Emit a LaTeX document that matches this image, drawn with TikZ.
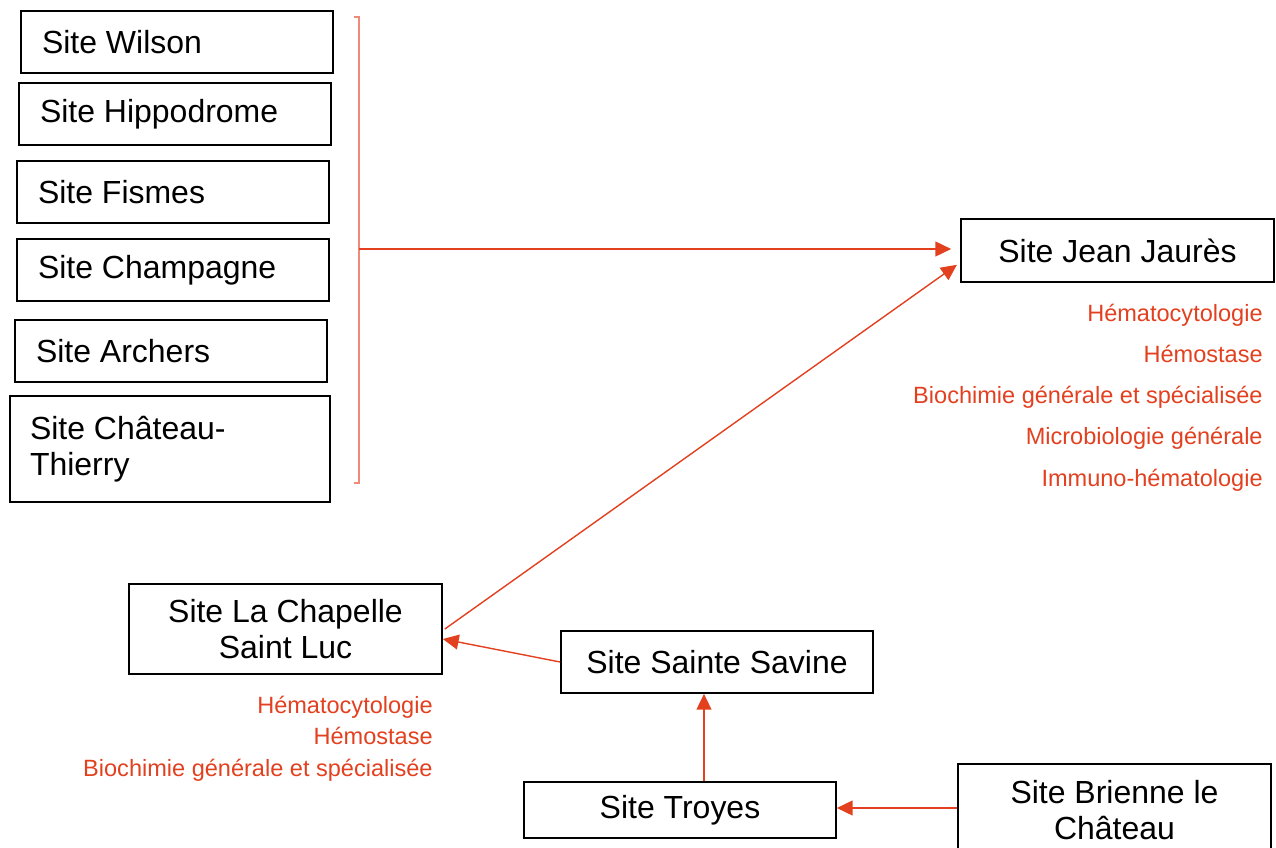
\documentclass[tikz,border=0pt]{standalone}
\usepackage{fontspec}
\setmainfont{Liberation Sans}
\usepackage{xcolor}
\usetikzlibrary{arrows.meta}
\definecolor{LabRed}{HTML}{E2401F}
\definecolor{BracketRed}{HTML}{F08A78}

\tikzset{
  sitebox/.style={draw=black, line width=1pt, inner sep=0pt,
    minimum width=6.24cm, minimum height=1.24cm,
    font=\fontsize{18.2}{20.4}\selectfont},
  leftbox/.style={sitebox, align=flush left, inner xsep=0.42cm, text width=5.40cm},
  sitelist/.style={text=LabRed, inner sep=0pt, anchor=east,
    text height=10pt, text depth=3pt,
    font=\fontsize{13.4}{16}\selectfont},
  link/.style={draw=LabRed, line width=0.8pt,
    -{Triangle[length=9pt, width=8.5pt]}},
  bracket/.style={draw=BracketRed, line width=0.7pt}
}

\begin{document}
\begin{tikzpicture}[x=0.02cm, y=-0.02cm]
  \useasboundingbox (0,0) rectangle (1276,848);

  % sites de la zone nord
  \node[leftbox] (wilson) at (177,42) {Site Wilson};
  \node[leftbox] (hippodrome) at (175,114) {Site Hippodrome};
  \node[leftbox] (fismes) at (173,192) {Site Fismes};
  \node[leftbox] (champagne) at (173,270) {Site Champagne};
  \node[leftbox] (archers) at (171,351) {Site Archers};
  \node[leftbox, minimum height=2.12cm, inner xsep=0.40cm, text width=5.60cm]
    (chateau) at (170,449) {Site Château-\\Thierry};

  % plateau central
  \node[sitebox, minimum width=6.26cm, minimum height=1.26cm]
    (jaures) at (1117.5,250.5) {Site Jean Jaurès};
  \foreach \lab [count=\i] in {Hématocytologie, Hémostase,
      Biochimie générale et spécialisée, Microbiologie générale,
      Immuno-hématologie}
    \node[sitelist] (jlist\i) at (1263,274+41.2*\i) {\lab};

  % sites de l'Aube
  \node[sitebox, minimum width=6.26cm, minimum height=1.80cm, align=center]
    (chapelle) at (285.5,629) {Site La Chapelle\\Saint Luc};
  \foreach \lab [count=\i] in {Hématocytologie, Hémostase,
      Biochimie générale et spécialisée}
    \node[sitelist] (clist\i) at (433,675.5+31.5*\i) {\lab};
  \node[sitebox] (savine) at (717,662) {Site Sainte Savine};
  \node[sitebox, minimum height=1.12cm] (troyes) at (680,810) {Site Troyes};
  \node[sitebox, minimum width=6.26cm, minimum height=1.84cm, align=center]
    (brienne) at (1114.5,810) {Site Brienne le\\Château};

  % accolade et liaisons
  \coordinate (brtop) at (359,17);
  \coordinate (brbot) at (359,483);
  \coordinate (brmid) at (359,249);
  \draw[bracket] ([xshift=-0.1cm]brtop) -- (brtop) -- (brbot)
    -- ([xshift=-0.1cm]brbot);
  \draw[link, shorten >=0.18cm] (brmid) -- (brmid -| jaures.west);
  \draw[link, shorten >=0.08cm] ([xshift=0.04cm]chapelle.east)
    -- ([yshift=-0.24cm]jaures.west);
  \draw[link] (savine.west) -- ([yshift=-0.2cm]chapelle.east);
  \draw[link] ([xshift=0.48cm]troyes.north)
    -- ([xshift=0.48cm]troyes.north |- savine.south);
  \draw[link] (brienne.west |- 0,808) -- (troyes.east |- 0,808);
\end{tikzpicture}
\end{document}
